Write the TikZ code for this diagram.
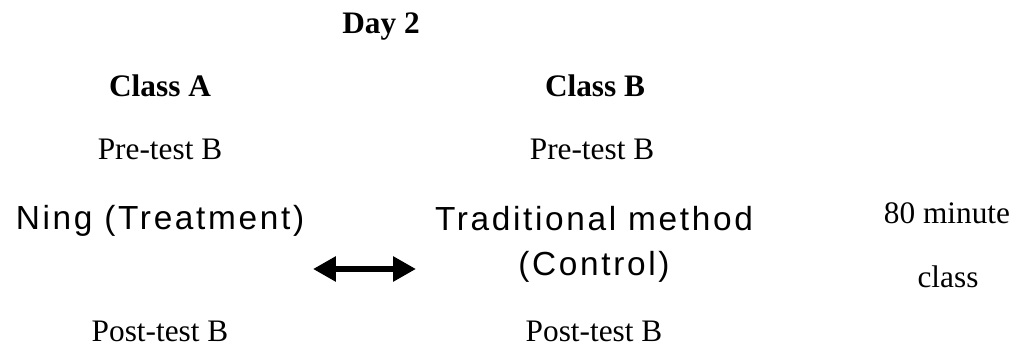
\documentclass[tikz,border=0pt]{standalone}
\usepackage{fontspec}
\setmainfont{Liberation Serif}
\newfontfamily\sansfnt[LetterSpace=8]{Liberation Sans}
\usetikzlibrary{arrows.meta}

\begin{document}
\begin{tikzpicture}[x=0.3834pt, y=-0.3834pt,
			every node/.style={inner sep=0pt, anchor=base},
			txt/.style={font=\fontsize{12pt}{14pt}\selectfont},
			hdr/.style={font=\fontsize{12pt}{14pt}\selectfont\bfseries},
			grp/.style={font=\sansfnt\fontsize{12.8pt}{14pt}\selectfont}]
			\useasboundingbox (0,0) rectangle (1013,346);
			
			% Titolo
			\node[hdr] (day) at (381,34) {Day 2};
			
			% Colonna classe A
			\node[hdr] (clsA) at (160,97) {Class A};
			\node[txt] (preA) at (160,160) {Pre-test B};
			\node[grp] (ning) at (160,230) {Ning (Treatment)};
			\node[txt] (postA) at (160,342) {Post-test B};
			
			% Colonna classe B
			\node[hdr] (clsB) at (595,97) {Class B};
			\node[txt] (preB) at (592,160) {Pre-test B};
			\node[grp] (trad) at (594,231) {Traditional method};
			\node[grp] (ctrl) at (594,276) {(Control)};
			\node[txt] (postB) at (594,342) {Post-test B};
			
			% Durata
			\node[txt] (mins) at (947,224) {80 minute};
			\node[txt] (lesson) at (948,288) {class};
			
			% Confronto
			\coordinate (cmpL) at (313,269);
			\coordinate (cmpR) at (416,269);
			\draw[{Triangle[length=8.8pt, width=9.2pt]}-{Triangle[length=8.8pt, width=9.2pt]},
				line width=2.6pt] (cmpL) -- (cmpR);
		\end{tikzpicture}
\end{document}
